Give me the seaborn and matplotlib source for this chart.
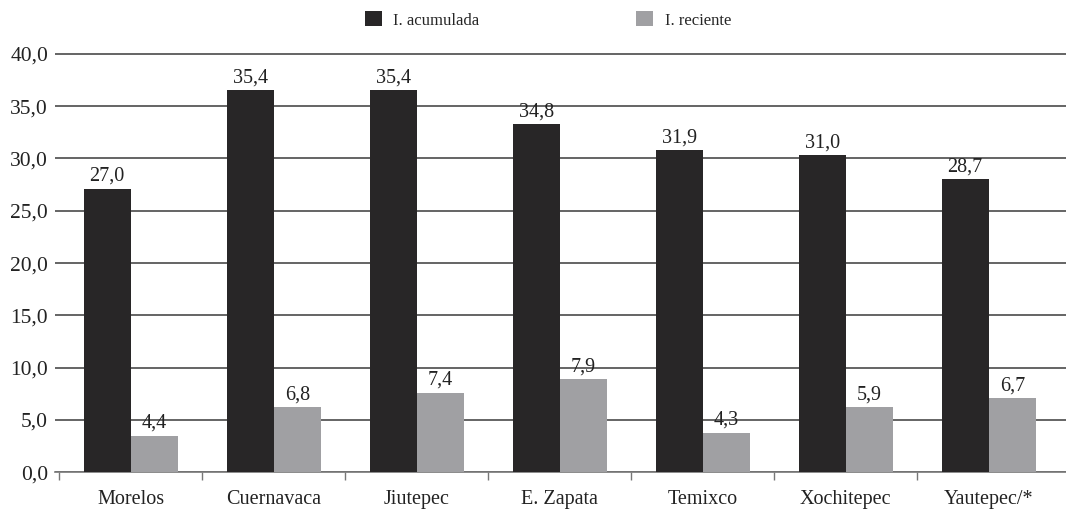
import numpy as np
import pandas as pd
import seaborn as sns
import matplotlib.pyplot as plt
from matplotlib.ticker import FuncFormatter, FixedLocator

# Datos
municipios = ["Morelos", "Cuernavaca", "Jiutepec", "E. Zapata", "Temixco", "Xochitepec", "Yautepec/*"]
series = ["I. acumulada", "I. reciente"]
# altura dibujada de cada barra
acumulada = [27.1, 36.5, 36.5, 33.3, 30.8, 30.3, 28.0]
reciente = [3.5, 6.25, 7.6, 8.9, 3.8, 6.25, 7.1]
# texto de las etiquetas sobre las barras
etq_acumulada = ["27,0", "35,4", "35,4", "34,8", "31,9", "31,0", "28,7"]
etq_reciente = ["4,4", "6,8", "7,4", "7,9", "4,3", "5,9", "6,7"]
colores = ["#282627", "#a0a0a3"]

df = pd.DataFrame({
    "municipio": municipios * 2,
    "serie": [series[0]] * len(municipios) + [series[1]] * len(municipios),
    "valor": acumulada + reciente,
})

sns.set_theme(style="white")
plt.rcParams["font.family"] = ["Liberation Serif", "DejaVu Serif"]

fig = plt.figure(figsize=(10.66, 5.15), dpi=100)
ax = fig.add_axes([55 / 1066, 1 - 472.3 / 515, 1 - 55 / 1066, 420 / 515])

sns.barplot(data=df, x="municipio", y="valor", hue="serie", palette=colores,
            width=0.66, saturation=1, linewidth=0, ax=ax, zorder=3)

for cont, etq in zip(ax.containers, [etq_acumulada, etq_reciente]):
    ax.bar_label(cont, labels=etq, padding=2, fontsize=14.5, color="#222222")

ax.set_ylim(0, 40.15)
ax.set_xlim(-0.53, 6.54)
ax.set_yticks(np.arange(0, 41, 5))
ax.yaxis.set_major_formatter(FuncFormatter(lambda v, p: f"{v:.1f}".replace(".", ",")))
ax.grid(axis="y", color="#3a3a3a", linewidth=1.1, zorder=0)
ax.set_axisbelow(True)
for s in ["top", "right", "left"]:
    ax.spines[s].set_visible(False)
ax.spines["bottom"].set_color("#777777")
ax.spines["bottom"].set_linewidth(1.2)

ax.xaxis.set_minor_locator(FixedLocator(np.arange(-0.5, 6, 1)))
ax.tick_params(axis="x", which="minor", bottom=True, length=6, width=1, color="#777777", direction="out")
ax.tick_params(axis="x", which="major", length=0, pad=13, labelsize=14.5, labelcolor="#222222")
ax.tick_params(axis="y", length=0, pad=5, labelsize=15.5, labelcolor="#222222")
ax.set_xlabel("")
ax.set_ylabel("")

sns.move_legend(ax, loc="center", bbox_to_anchor=(0.4876, 1.077), ncol=2, frameon=False,
                title=None, fontsize=12, handlelength=1.0, handleheight=1.0,
                columnspacing=9.4, handletextpad=0.7, borderpad=0)

fig.savefig("out.png", dpi=100)
